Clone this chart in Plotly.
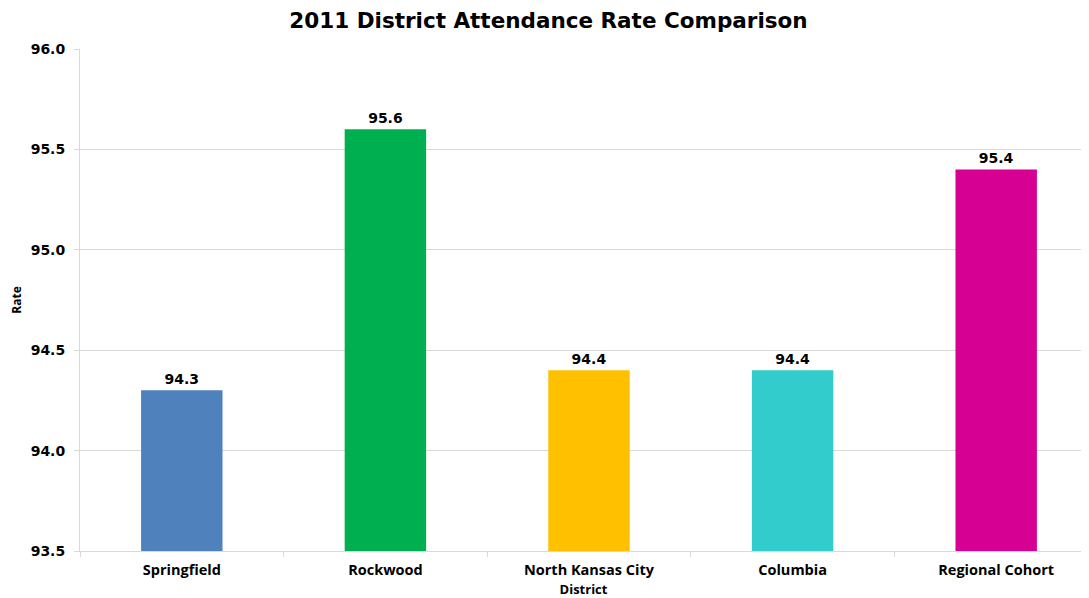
import plotly.graph_objects as go

# data
districts = ["Springfield", "Rockwood", "North Kansas City", "Columbia", "Regional Cohort"]
rates = [94.3, 95.6, 94.4, 94.4, 95.4]
bar_colors = ["#4f81bd", "#00b050", "#ffc000", "#33cccc", "#d60093"]

y_floor = 93.5
grid = "#d9d9d9"

fig = go.Figure(go.Bar(
    x=districts, y=[v - y_floor for v in rates], base=y_floor,
    marker=dict(color=bar_colors, line=dict(width=0)),
    width=0.4,
    text=[f"<b>{v:.1f}</b>" for v in rates],
    textposition="outside",
    textfont=dict(family="DejaVu Sans", size=14, color="#000000"),
    cliponaxis=False,
))

# page body has an 8px margin, so the figure is sized to fill the rest
fig.update_layout(
    width=1081, height=590,
    margin=dict(l=72, r=2, t=41, b=47),
    paper_bgcolor="white", plot_bgcolor="white",
    showlegend=False,
    title=dict(text="<b>2011 District Attendance Rate Comparison</b>",
               x=0.5, xanchor="center", y=1 - 12 / 590, yanchor="middle",
               font=dict(family="DejaVu Sans", size=21.5, color="#000000")),
    xaxis=dict(
        title=dict(text="<b>District</b>", standoff=8,
                   font=dict(family="Open Sans", size=13, color="#000000")),
        # the original plot area runs a little past the right edge of the image
        range=[-0.5, 4.446],
        tickfont=dict(family="Open Sans", size=14.5, color="#000000"),
        tickprefix="<b>", ticksuffix="</b>",
        ticklabelstandoff=6,
        showline=True, linecolor=grid, linewidth=1,
        ticks="outside", tickson="boundaries", ticklen=5, tickcolor=grid,
        showgrid=False, automargin=False,
    ),
    yaxis=dict(
        title=dict(text="<b>Rate</b>", standoff=12,
                   font=dict(family="Open Sans", size=12, color="#000000")),
        range=[y_floor, 96.0], dtick=0.5, tickformat=".1f",
        tickfont=dict(family="DejaVu Sans", size=14, color="#000000"),
        tickprefix="<b>", ticksuffix="</b>",
        ticklabelstandoff=6,
        showline=True, linecolor=grid, linewidth=1,
        ticks="outside", ticklen=5, tickcolor=grid,
        showgrid=True, gridcolor=grid, gridwidth=1,
        zeroline=False, automargin=False,
    ),
)

fig.write_html("out.html")
